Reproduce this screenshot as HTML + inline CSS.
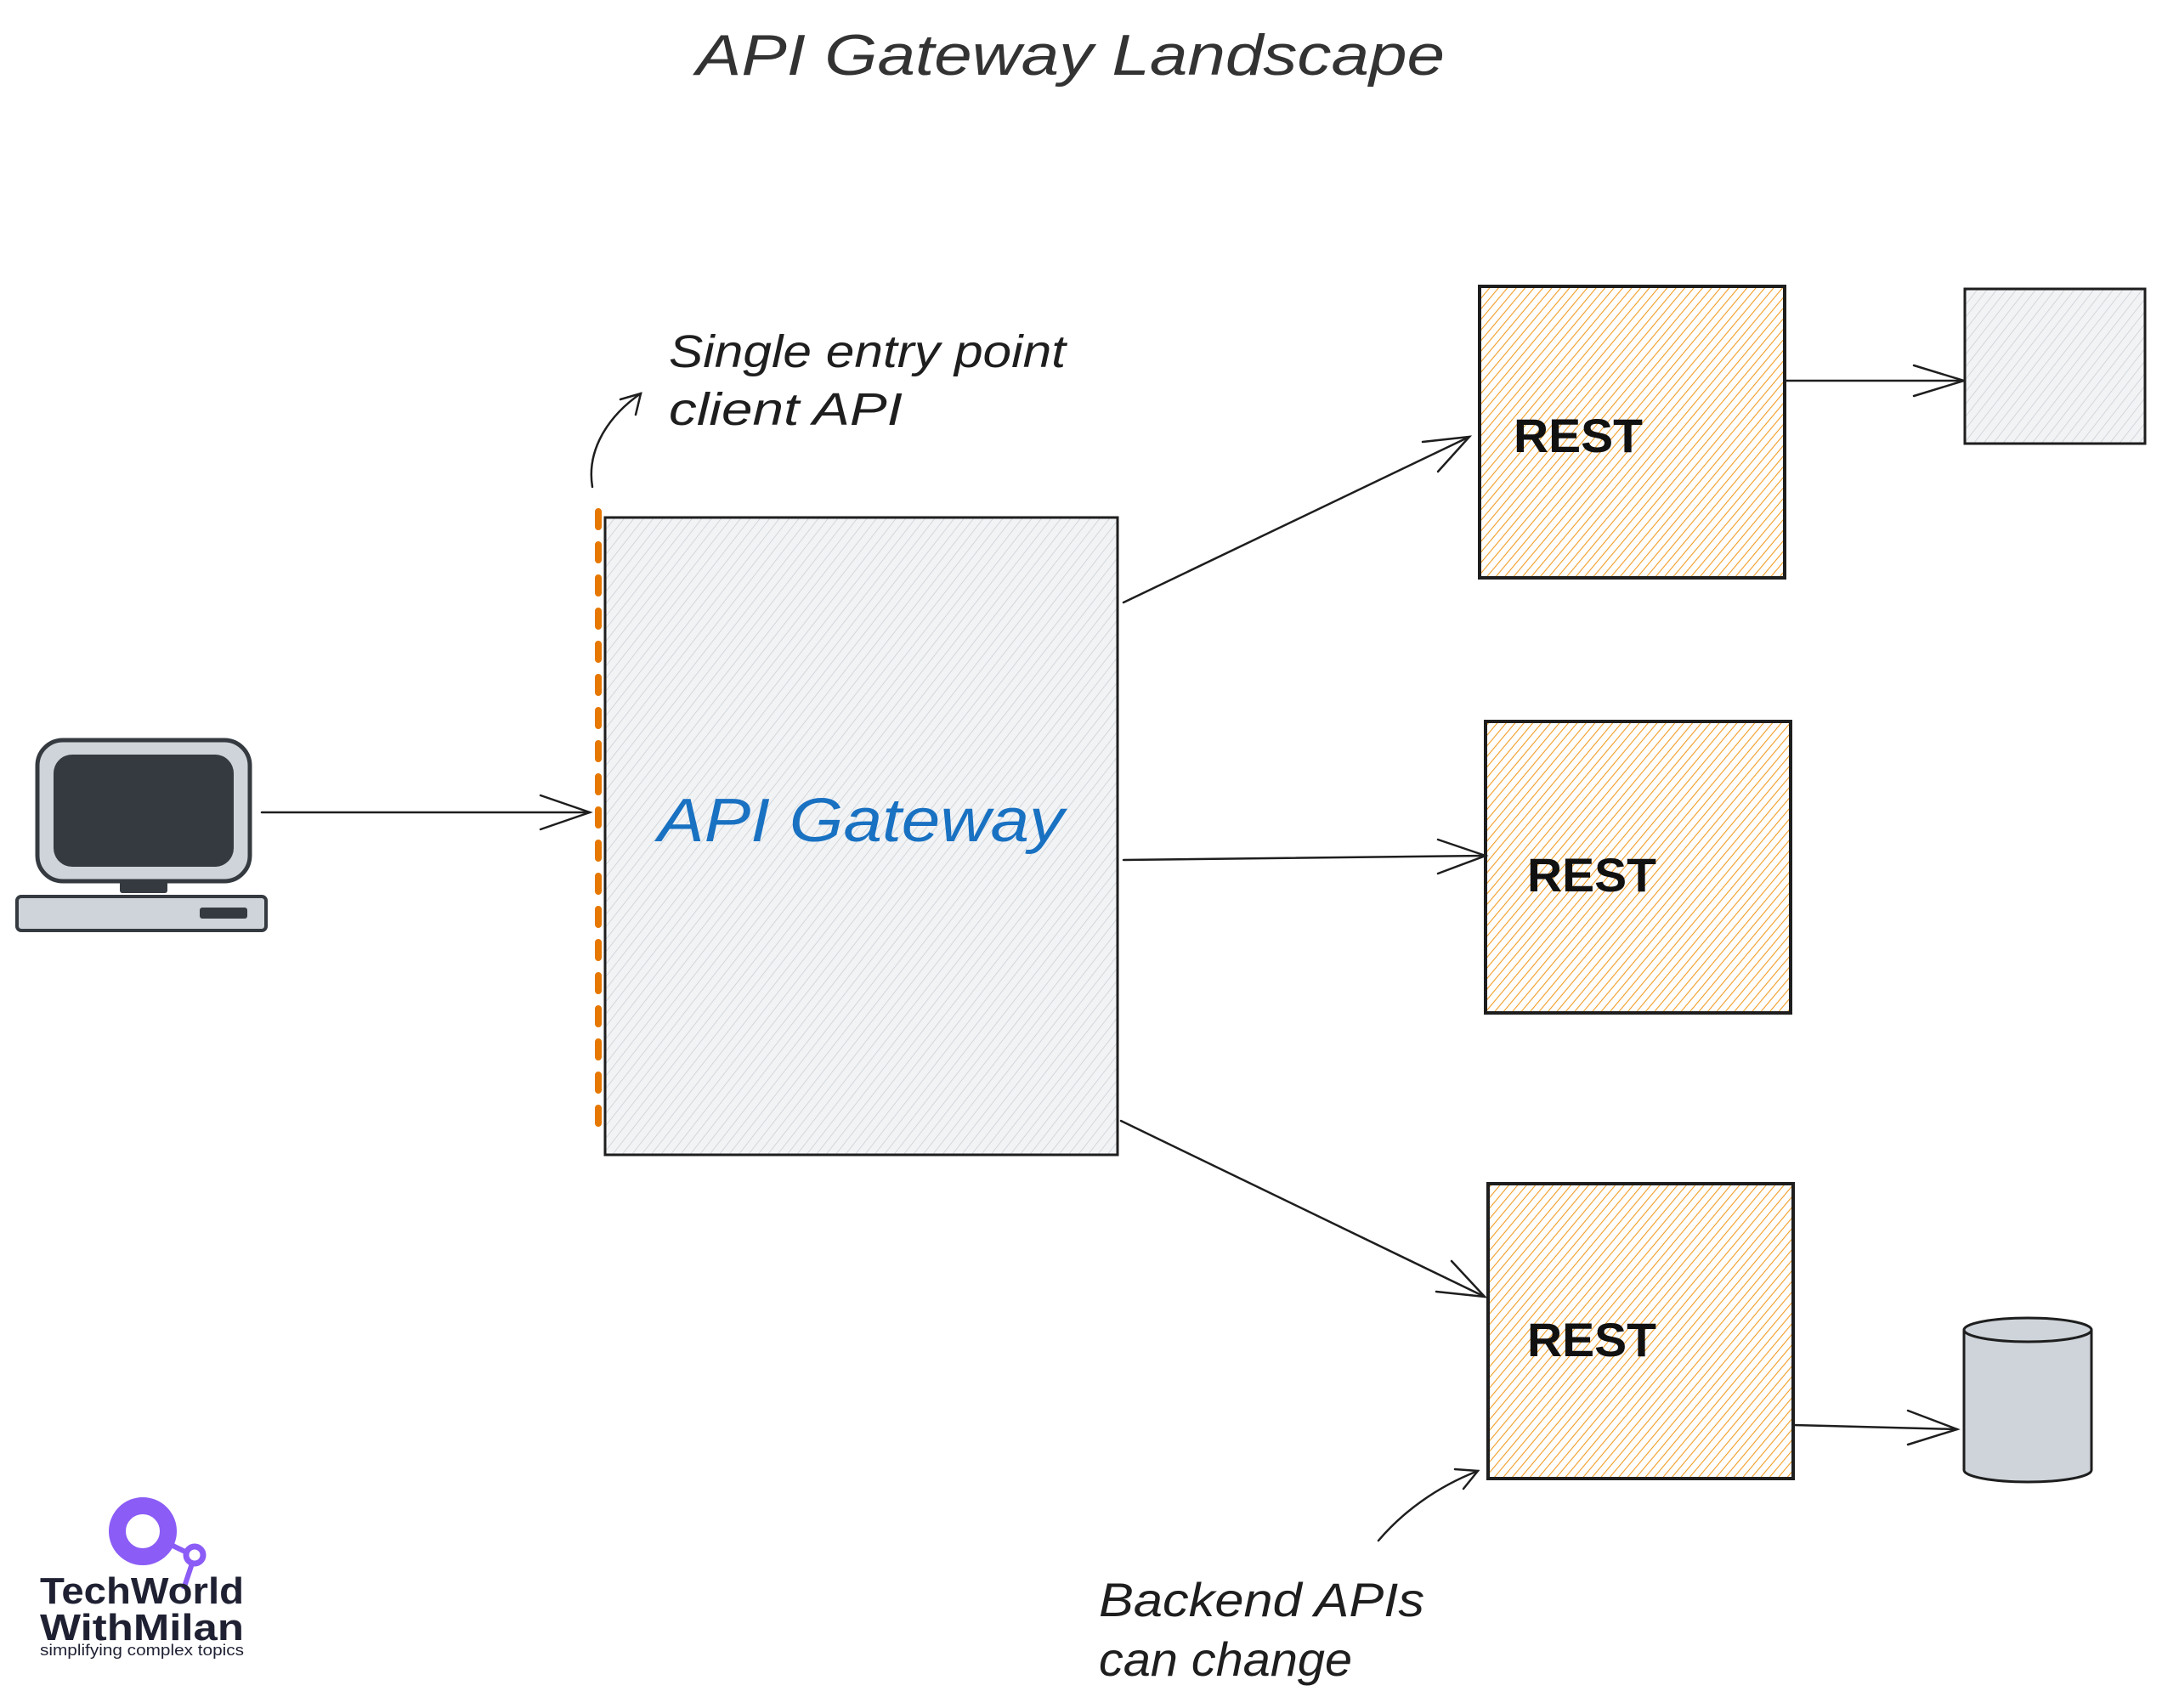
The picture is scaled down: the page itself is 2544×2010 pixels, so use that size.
<!DOCTYPE html>
<html><head><meta charset="utf-8"><style>
html,body{margin:0;padding:0;background:#fff;}
svg{display:block;}
text{font-family:"Liberation Sans","DejaVu Sans",sans-serif;}
</style></head><body>
<svg width="2544" height="2010" viewBox="0 0 2544 2010" xmlns="http://www.w3.org/2000/svg">
<defs>
<pattern id="gh" patternUnits="userSpaceOnUse" width="9" height="9" patternTransform="rotate(38)">
<rect width="9" height="9" fill="#f1f3f5"/>
<line x1="0" y1="0" x2="0" y2="9" stroke="#c8ccd0" stroke-width="1.4"/>
</pattern>
<pattern id="oh" patternUnits="userSpaceOnUse" width="8" height="8" patternTransform="rotate(40)">
<rect width="8" height="8" fill="#fff"/>
<line x1="0" y1="0" x2="0" y2="8" stroke="#f08c00" stroke-width="2.2" opacity="0.85"/>
</pattern>
</defs>

<text x="819" y="88" font-size="68" fill="#333" textLength="881" lengthAdjust="spacingAndGlyphs" font-style="italic">API Gateway Landscape</text>

<!-- computer -->
<rect x="44" y="871" width="250" height="166" rx="30" fill="#ced4da" stroke="#343a40" stroke-width="5"/>
<rect x="63" y="888" width="212" height="132" rx="22" fill="#343a40"/>
<rect x="141" y="1036" width="56" height="15" rx="3" fill="#343a40"/>
<rect x="20" y="1055" width="293" height="40" rx="5" fill="#ced4da" stroke="#343a40" stroke-width="4"/>
<rect x="235" y="1068" width="56" height="13" rx="3" fill="#343a40"/>

<g fill="none" stroke="#1e1e1e" stroke-width="2.5" stroke-linecap="round">
<line x1="308" y1="956" x2="694" y2="956"/>
<polyline points="636,936 694,956 636,976"/>
</g>

<!-- gateway -->
<rect x="712" y="609" width="603" height="750" fill="url(#gh)" stroke="#1e1e1e" stroke-width="3"/>
<line x1="704" y1="602" x2="704" y2="1343" stroke="#e67700" stroke-width="8" stroke-dasharray="18 21" stroke-linecap="round"/>
<text x="774" y="990" font-size="72" fill="#1971c2" textLength="478" lengthAdjust="spacingAndGlyphs" font-style="italic">API Gateway</text>

<text x="787" y="432" font-size="54" fill="#1e1e1e" textLength="467" lengthAdjust="spacingAndGlyphs" font-style="italic">Single entry point</text>
<text x="787" y="500" font-size="54" fill="#1e1e1e" textLength="275" lengthAdjust="spacingAndGlyphs" font-style="italic">client API</text>
<g fill="none" stroke="#1e1e1e" stroke-width="2.5" stroke-linecap="round">
<path d="M697,573 C690,530 715,490 754,463"/>
<polyline points="730,470 754,463 748,488"/>
</g>

<!-- REST boxes -->
<rect x="1741" y="337" width="359" height="343" fill="url(#oh)" stroke="#1e1e1e" stroke-width="4"/>
<rect x="1748" y="849" width="359" height="343" fill="url(#oh)" stroke="#1e1e1e" stroke-width="4"/>
<rect x="1751" y="1393" width="359" height="347" fill="url(#oh)" stroke="#1e1e1e" stroke-width="4"/>
<g font-size="56" fill="#111" font-weight="bold">
<text x="1781" y="532" textLength="152" lengthAdjust="spacingAndGlyphs">REST</text>
<text x="1797" y="1049" textLength="152" lengthAdjust="spacingAndGlyphs">REST</text>
<text x="1797" y="1596" textLength="152" lengthAdjust="spacingAndGlyphs">REST</text>
</g>

<!-- gateway arrows -->
<g fill="none" stroke="#1e1e1e" stroke-width="2.5" stroke-linecap="round">
<line x1="1322" y1="709" x2="1729" y2="514"/>
<polyline points="1674,520 1729,514 1692,555"/>
<line x1="1322" y1="1012" x2="1748" y2="1007"/>
<polyline points="1692,988 1748,1007 1692,1028"/>
<line x1="1319" y1="1319" x2="1747" y2="1526"/>
<polyline points="1708,1484 1747,1526 1690,1520"/>
<line x1="2102" y1="448" x2="2311" y2="448"/>
<polyline points="2252,430 2311,448 2252,466"/>
<line x1="2110" y1="1677" x2="2303" y2="1682"/>
<polyline points="2245,1660 2303,1682 2245,1700"/>
<path d="M1622,1813 C1650,1780 1690,1750 1739,1731"/>
<polyline points="1712,1729 1739,1731 1722,1752"/>
</g>

<rect x="2312" y="340" width="212" height="182" fill="url(#gh)" stroke="#1e1e1e" stroke-width="3"/>

<!-- cylinder -->
<path d="M2311,1565 L2311,1730 A75,14 0 0 0 2461,1730 L2461,1565" fill="#ced4da" stroke="#1e1e1e" stroke-width="3"/>
<ellipse cx="2386" cy="1565" rx="75" ry="14" fill="#ced4da" stroke="#1e1e1e" stroke-width="3"/>

<text x="1293" y="1902" font-size="56" fill="#1e1e1e" textLength="383" lengthAdjust="spacingAndGlyphs" font-style="italic">Backend APIs</text>
<text x="1293" y="1972" font-size="56" fill="#1e1e1e" textLength="298" lengthAdjust="spacingAndGlyphs" font-style="italic">can change</text>

<!-- logo -->
<circle cx="168" cy="1802" r="30" fill="none" stroke="#8b5cf6" stroke-width="20"/>
<line x1="195" y1="1815" x2="222" y2="1828" stroke="#8b5cf6" stroke-width="6"/>
<circle cx="229" cy="1830" r="10" fill="none" stroke="#8b5cf6" stroke-width="7"/>
<line x1="226" y1="1840" x2="216" y2="1870" stroke="#8b5cf6" stroke-width="6"/>
<text x="47" y="1887" font-size="44" font-weight="bold" fill="#1f2133" textLength="240" lengthAdjust="spacingAndGlyphs">TechWorld</text>
<text x="47" y="1930" font-size="44" font-weight="bold" fill="#1f2133" textLength="240" lengthAdjust="spacingAndGlyphs">WithMilan</text>
<text x="47" y="1948" font-size="18" fill="#1f2133" textLength="240" lengthAdjust="spacingAndGlyphs">simplifying complex topics</text>
</svg>
</body></html>
